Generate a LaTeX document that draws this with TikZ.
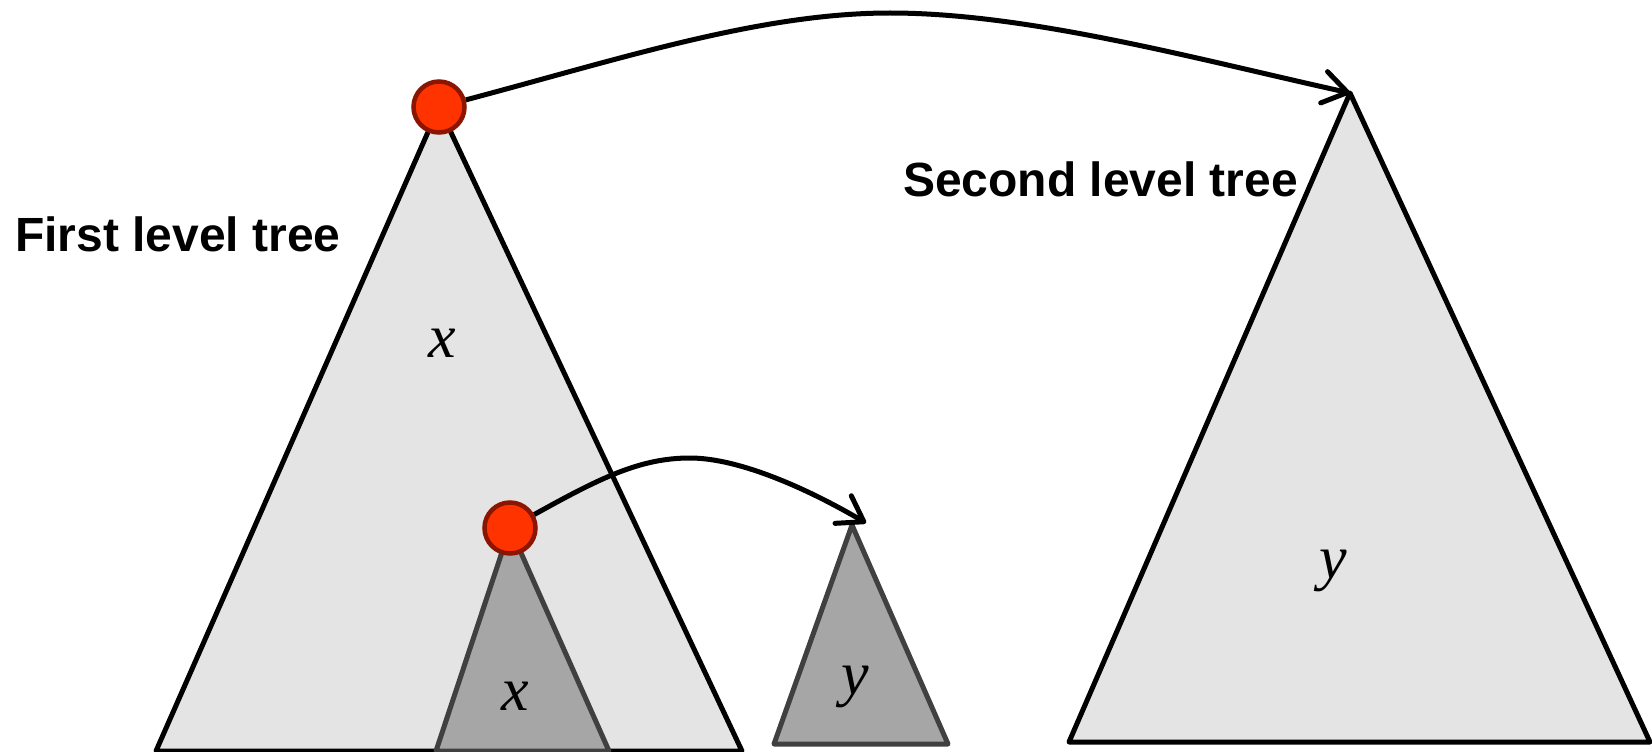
\documentclass[tikz,border=0pt]{standalone}
\usepackage{fontspec}
\setmainfont{Liberation Sans}
\newfontfamily\lblfont{Liberation Serif}
\usetikzlibrary{arrows.meta}
\definecolor{treegray}{HTML}{E4E4E4}
\definecolor{subgray}{HTML}{A6A6A6}
\definecolor{subedge}{HTML}{404040}
\definecolor{dotred}{HTML}{FF3300}
\definecolor{dotedge}{HTML}{8B1500}
\begin{document}
\begin{tikzpicture}[x=1pt,y=-1pt,
  bigtree/.style={fill=treegray, draw=black, line width=5pt, line join=round},
  subtree/.style={fill=subgray, draw=subedge, line width=5pt, line join=round},
  rootdot/.style={circle, fill=dotred, draw=dotedge, line width=4.5pt, minimum size=51pt, inner sep=0pt},
  ptr/.style={line width=5pt, -{Straight Barb[length=24pt,width=32pt,round]}},
  title/.style={font=\fontsize{48}{56}\selectfont\bfseries, inner sep=0pt, anchor=base west},
  var/.style={font=\lblfont\itshape\fontsize{62}{70}\selectfont, inner sep=0pt}]
\useasboundingbox (0,0) rectangle (1652,752);
% first level tree
\coordinate (a1) at (439,107);
\coordinate (l1) at (156,751);
\coordinate (r1) at (742,751);
\draw[bigtree] (a1) -- (l1) -- (r1) -- cycle;
% second level tree
\coordinate (a2) at (1350,93);
\coordinate (l2) at (1069,742);
\coordinate (r2) at (1650,742);
\draw[bigtree] (a2) -- (l2) -- (r2) -- cycle;
% subtree x
\coordinate (a3) at (510,528);
\coordinate (l3) at (436,751);
\coordinate (r3) at (609,751);
\draw[subtree] (a3) -- (l3) -- (r3) -- cycle;
% subtree y
\coordinate (a4) at (852,525);
\coordinate (l4) at (774,744);
\coordinate (r4) at (948,744);
\draw[subtree] (a4) -- (l4) -- (r4) -- cycle;
\coordinate (ytip) at (866,523);
% labels
\node[title] (t1) at (15,251) {First level tree};
\node[title] (t2) at (903,196) {Second level tree};
\node[var] (vx1) at (442,343) {x};
\node[var] (vx2) at (515,696) {x};
\node[var] (vy1) at (855,687) {y};
\node[var] (vy2) at (1333,571) {y};
% roots
\node[rootdot] (n1) at (a1) {};
\node[rootdot] (n2) at (a3) {};
% pointers
\coordinate (pk1) at (890,13);
\coordinate (pk2) at (690,458);
\draw[ptr] (n1) .. controls (620,59) and (760,13) .. (pk1)
  .. controls (1030,13) and (1200,60) .. (a2);
\draw[ptr] (n2) .. controls (600,478) and (640,458) .. (pk2)
  .. controls (740,458) and (810,490) .. (ytip);
\end{tikzpicture}
\end{document}
